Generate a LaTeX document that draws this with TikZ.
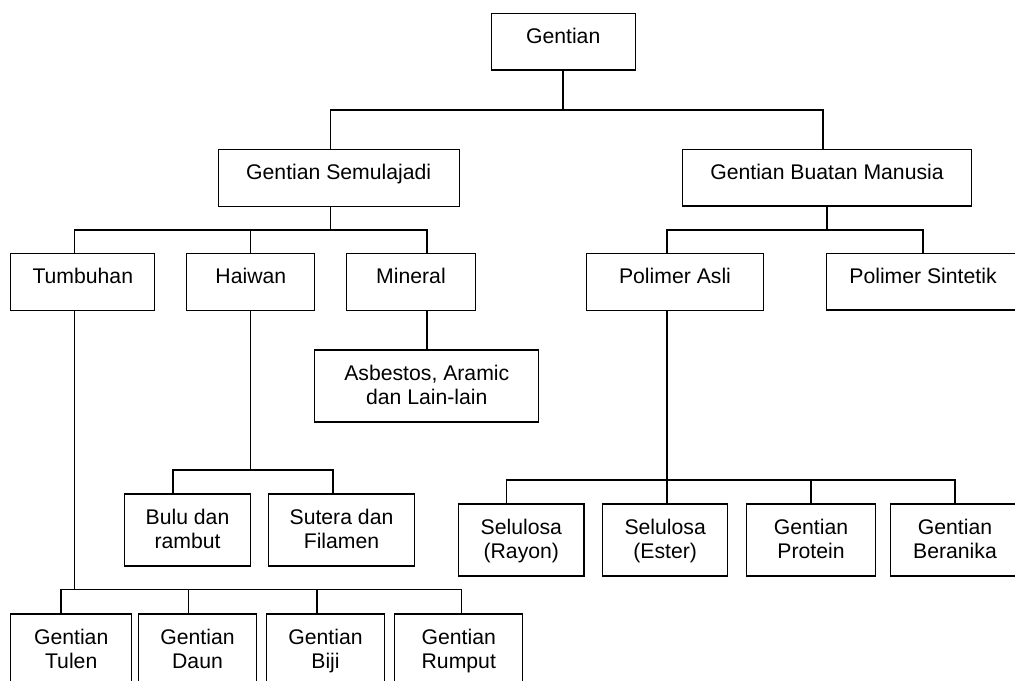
\documentclass[tikz,border=0pt]{standalone}
\usepackage{fontspec}
\setmainfont{Liberation Sans}
\tikzset{
  box/.style={draw, line width=0.8pt, inner xsep=0pt, inner ysep=0pt,
    text height=22.5pt, text depth=20pt, align=center,
    font=\fontsize{15.9}{18}\selectfont},
  tall/.style={text depth=31.5pt},
  link/.style={line width=0.8pt}
}
\newcommand{\twol}[2]{\begin{tabular}[t]{@{}c@{}}#1\\#2\end{tabular}}
\begin{document}
\begin{tikzpicture}[x=0.75pt,y=-0.75pt]
\useasboundingbox (0,0) rectangle (1015,681);
\clip (0,0) rectangle (1015,681);
% boxes
\node[box, minimum width=108.2pt] (gentian) at (563.2,41.7) {Gentian};
\node[box, minimum width=180.5pt] (gs) at (338.7,178.3) {Gentian Semulajadi};
\node[box, minimum width=216.5pt] (gbm) at (827,177.7) {Gentian Buatan Manusia};
\node[box, minimum width=108.2pt] (tumbuhan) at (82.8,282.3) {Tumbuhan};
\node[box, minimum width=96.2pt] (haiwan) at (250.8,282.3) {Haiwan};
\node[box, minimum width=96.5pt] (mineral) at (411,282.3) {Mineral};
\node[box, minimum width=132.5pt] (pasli) at (675,282.3) {Polimer Asli};
\node[box, minimum width=144.5pt] (psint) at (923,281.7) {Polimer Sintetik};
\node[box, tall, minimum width=168.2pt] (asbestos) at (426.8,386) {\twol{Asbestos, Aramic}{dan Lain-lain}};
\node[box, tall, minimum width=94.2pt] (bulu) at (187.5,530) {\twol{Bulu dan}{rambut}};
\node[box, tall, minimum width=109.2pt] (sutera) at (341.5,530) {\twol{Sutera dan}{Filamen}};
\node[box, tall, minimum width=94pt] (rayon) at (521.3,540) {\twol{Selulosa}{(Rayon)}};
\node[box, tall, minimum width=93.75pt] (ester) at (665.2,540) {\twol{Selulosa}{(Ester)}};
\node[box, tall, minimum width=96.5pt] (protein) at (811,540) {\twol{Gentian}{Protein}};
\node[box, tall, minimum width=96.5pt] (beranika) at (955,540) {\twol{Gentian}{Beranika}};
\node[box, tall, minimum width=90.75pt] (tulen) at (71.2,650) {\twol{Gentian}{Tulen}};
\node[box, tall, minimum width=88.2pt] (daun) at (197.5,650) {\twol{Gentian}{Daun}};
\node[box, tall, minimum width=88.2pt] (biji) at (325.5,650) {\twol{Gentian}{Biji}};
\node[box, tall, minimum width=96.2pt] (rumput) at (458.8,650) {\twol{Gentian}{Rumput}};
% level 1
\coordinate (a0) at (563,110);
\coordinate (a1) at (330.7,110);
\coordinate (a2) at (823,110);
\draw[link] (gentian.south -| a0) -- (a0);
\draw[link] (gs.north -| a1) -- (a1) -- (a2) -- (gbm.north -| a2);
% level 2 left
\coordinate (b0) at (330.7,230);
\coordinate (b1) at (74.7,230);
\coordinate (b2) at (250.7,230);
\coordinate (b3) at (427,230);
\draw[link] (gs.south -| b0) -- (b0);
\draw[link] (tumbuhan.north -| b1) -- (b1) -- (b3) -- (mineral.north -| b3);
\draw[link] (b2) -- (haiwan.north -| b2);
% level 2 right
\coordinate (c0) at (827,230);
\coordinate (c1) at (667,230);
\coordinate (c2) at (923,230);
\draw[link] (gbm.south -| c0) -- (c0);
\draw[link] (pasli.north -| c1) -- (c1) -- (c2) -- (psint.north -| c2);
% mineral
\draw[link] (mineral.south -| b3) -- (asbestos.north -| b3);
% haiwan
\coordinate (d0) at (250.7,470);
\coordinate (d1) at (173,470);
\coordinate (d2) at (333,470);
\draw[link] (haiwan.south -| d0) -- (d0);
\draw[link] (bulu.north -| d1) -- (d1) -- (d2) -- (sutera.north -| d2);
% tumbuhan
\coordinate (e0) at (74.7,589.3);
\coordinate (e1) at (61,589.3);
\coordinate (e2) at (188.7,589.3);
\coordinate (e3) at (317,589.3);
\coordinate (e4) at (461.7,589.3);
\draw[link] (tumbuhan.south -| e0) -- (e0);
\draw[link] (tulen.north -| e1) -- (e1) -- (e4) -- (rumput.north -| e4);
\draw[link] (e2) -- (daun.north -| e2);
\draw[link] (e3) -- (biji.north -| e3);
% polimer asli
\coordinate (f0) at (667,480);
\coordinate (f1) at (506.7,480);
\coordinate (f3) at (811,480);
\coordinate (f4) at (955,480);
\draw[link] (pasli.south -| f0) -- (f0) -- (ester.north -| f0);
\draw[link] (rayon.north -| f1) -- (f1) -- (f4) -- (beranika.north -| f4);
\draw[link] (f3) -- (protein.north -| f3);
\end{tikzpicture}
\end{document}
